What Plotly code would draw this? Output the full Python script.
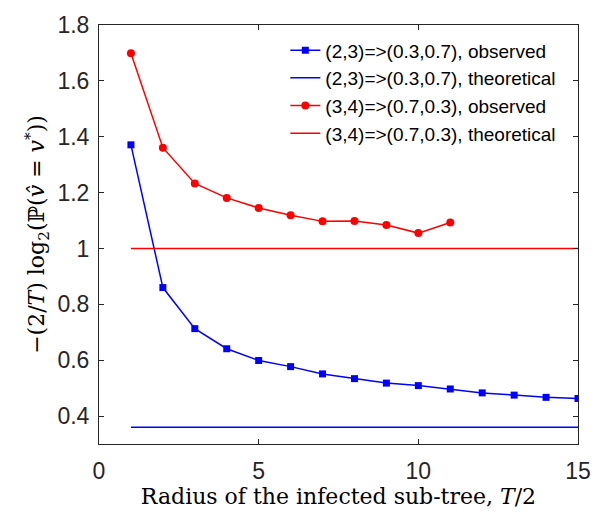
import plotly.graph_objects as go

x_blue = list(range(1, 16))
y_blue_obs = [1.371, 0.860, 0.713, 0.641, 0.599, 0.577, 0.551, 0.534, 0.518, 0.509, 0.497, 0.483, 0.475, 0.467, 0.463]
x_red = list(range(1, 12))
y_red_obs = [1.699, 1.361, 1.233, 1.181, 1.145, 1.119, 1.097, 1.098, 1.084, 1.055, 1.093]
x_theory = [1, 15]
y_blue_theory = [0.36, 0.36]
y_red_theory = [1.0, 1.0]

names = ["(2,3)=>(0.3,0.7), observed", "(2,3)=>(0.3,0.7), theoretical",
         "(3,4)=>(0.7,0.3), observed", "(3,4)=>(0.7,0.3), theoretical"]
yticks = [0.4, 0.6, 0.8, 1.0, 1.2, 1.4, 1.6, 1.8]
yticktext = ["0.4", "0.6", "0.8", "1", "1.2", "1.4", "1.6", "1.8"]
xticks = [0, 5, 10, 15]

BLUE = "#0000ff"
RED = "#ff0000"
SANS = "Liberation Sans, Arial, sans-serif"
SERIF = "DejaVu Serif, serif"

fig = go.Figure()
fig.add_trace(go.Scatter(x=x_blue, y=y_blue_obs, mode="lines+markers", name=names[0],
                         line=dict(color=BLUE, width=1.5),
                         marker=dict(symbol="square", size=7, color=BLUE)))
fig.add_trace(go.Scatter(x=x_theory, y=y_blue_theory, mode="lines", name=names[1],
                         line=dict(color=BLUE, width=1.5)))
fig.add_trace(go.Scatter(x=x_red, y=y_red_obs, mode="lines+markers", name=names[2],
                         line=dict(color=RED, width=1.5),
                         marker=dict(symbol="circle", size=8, color=RED)))
fig.add_trace(go.Scatter(x=x_theory, y=y_red_theory, mode="lines", name=names[3],
                         line=dict(color=RED, width=1.5)))

axis_common = dict(showline=True, linecolor="#262626", linewidth=1, mirror="ticks",
                   ticks="inside", ticklen=5, tickcolor="#262626", showgrid=False,
                   zeroline=False,
                   tickfont=dict(family=SANS, size=23, color="#262626"))

fig.update_layout(
    width=603, height=516,
    margin=dict(l=99, r=20, t=16, b=72),
    paper_bgcolor="white", plot_bgcolor="white",
    showlegend=True,
    legend=dict(x=0.389, y=0.985, xanchor="left", yanchor="top",
                bgcolor="rgba(255,255,255,0)", borderwidth=0,
                traceorder="normal",
                font=dict(family=SANS, size=19, color="black")),
    xaxis=dict(range=[0, 15], tickvals=xticks, ticklabelstandoff=6,
               title=dict(text="Radius of the infected sub-tree, <i>T</i>/2",
                          font=dict(family=SERIF, size=22, color="black"),
                          standoff=2),
               **axis_common),
    yaxis=dict(range=[0.3, 1.8], tickvals=yticks, ticktext=yticktext, ticklabelstandoff=4,
               title=dict(text="−(2/<i>T</i>) log<sub>2</sub>(ℙ(<i>v̂</i> = <i>v</i><sup>*</sup>))",
                          font=dict(family=SERIF, size=22, color="black"),
                          standoff=6),
               **axis_common),
)

fig.write_html("out.html")
